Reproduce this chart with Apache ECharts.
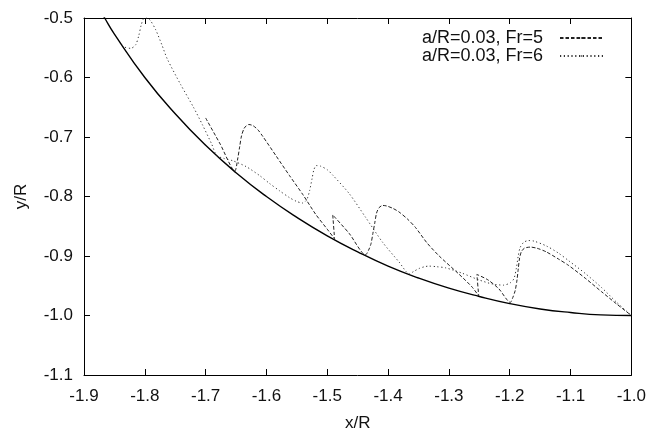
<!DOCTYPE html>
<html>
<head>
<meta charset="utf-8">
<script src="https://cdn.jsdelivr.net/npm/echarts@6/dist/echarts.min.js"></script>
<style>
  html, body { margin: 0; padding: 0; background: #fff; }
  #chart { width: 649px; height: 437px; }
</style>
</head>
<body>
<div id="chart"></div>
<script>
// Wall contour (solid)
const wallX = [-1.880, -1.866, -1.85, -1.8, -1.75, -1.7, -1.65, -1.6, -1.55, -1.5, -1.45, -1.4, -1.35, -1.3, -1.25, -1.2, -1.15, -1.1, -1.05, -1.0];
const wallY = [-0.475, -0.500, -0.527, -0.600, -0.661, -0.714, -0.760, -0.800, -0.835, -0.866, -0.893, -0.917, -0.937, -0.954, -0.968, -0.980, -0.989, -0.995, -0.999, -1.000];

// a/R=0.03, Fr=5 trajectory (dashed)
const fr5X = [-1.700, -1.676, -1.652,
  -1.647, -1.644, -1.641, -1.637, -1.633, -1.629, -1.622, -1.614, -1.606, -1.584, -1.562, -1.540, -1.519, -1.500, -1.488,
  -1.491, -1.464, -1.437,
  -1.432, -1.428, -1.425, -1.422, -1.419, -1.415, -1.409, -1.402, -1.392, -1.382, -1.368, -1.355, -1.336, -1.316, -1.284, -1.262, -1.251,
  -1.254, -1.236, -1.218, -1.199,
  -1.195, -1.191, -1.188, -1.186, -1.184, -1.181, -1.176, -1.166, -1.155, -1.140, -1.120, -1.103, -1.075, -1.049, -1.025, -1.000];
const fr5Y = [-0.668, -0.712, -0.757,
  -0.735, -0.716, -0.698, -0.686, -0.681, -0.679, -0.681, -0.688, -0.699, -0.732, -0.765, -0.797, -0.830, -0.855, -0.871,
  -0.831, -0.862, -0.898,
  -0.890, -0.879, -0.862, -0.845, -0.828, -0.819, -0.815, -0.816, -0.820, -0.826, -0.838, -0.852, -0.878, -0.900, -0.930, -0.952, -0.967,
  -0.931, -0.940, -0.955, -0.978,
  -0.970, -0.958, -0.940, -0.922, -0.905, -0.893, -0.887, -0.885, -0.887, -0.893, -0.905, -0.916, -0.938, -0.960, -0.980, -1.000];

// a/R=0.03, Fr=6 trajectory (dotted)
const fr6X = [-1.842, -1.833, -1.823, -1.815, -1.810, -1.806, -1.802, -1.797, -1.791, -1.782, -1.772, -1.763, -1.741, -1.720, -1.705, -1.690, -1.682,
  -1.670, -1.655, -1.633, -1.611, -1.595, -1.579, -1.562, -1.551, -1.541, -1.534, -1.529, -1.525, -1.522, -1.518, -1.511, -1.500, -1.491, -1.464, -1.437, -1.409, -1.382, -1.365,
  -1.358, -1.349, -1.340, -1.333, -1.320, -1.305, -1.278, -1.251, -1.229, -1.210, -1.199, -1.193, -1.189, -1.186, -1.183, -1.177, -1.169, -1.160, -1.140, -1.120, -1.103, -1.075, -1.049, -1.025, -1.000];
const fr6Y = [-0.541, -0.549, -0.551, -0.545, -0.530, -0.512, -0.501, -0.500, -0.504, -0.520, -0.545, -0.569, -0.612, -0.650, -0.680, -0.712, -0.731,
  -0.736, -0.740, -0.750, -0.765, -0.778, -0.790, -0.802, -0.808, -0.811, -0.806, -0.790, -0.770, -0.755, -0.748, -0.749, -0.755, -0.764, -0.795, -0.835, -0.877, -0.910, -0.930,
  -0.926, -0.921, -0.918, -0.917, -0.918, -0.920, -0.929, -0.940, -0.947, -0.949, -0.945, -0.938, -0.920, -0.900, -0.886, -0.877, -0.874, -0.875, -0.883, -0.895, -0.908, -0.930, -0.953, -0.977, -1.000];

// Axis ranges and tick step
const xMin = -1.9, xMax = -1.0;
const yMin = -1.1, yMax = -0.5;
const step = 0.1;

const zip = (xs, ys) => xs.map((x, i) => [x, ys[i]]);
const fmt = v => v.toFixed(1);

const FONT = 'Liberation Sans, Arial, sans-serif';
const tick = { show: true, inside: true, length: 6, lineStyle: { color: '#000', width: 1 } };
const line = { show: true, lineStyle: { color: '#000', width: 1 } };

const chart = echarts.init(document.getElementById('chart'), null, { renderer: 'canvas' });
chart.setOption({
  animation: false,
  backgroundColor: '#fff',
  grid: { left: 84, right: 16, top: 18, bottom: 52, containLabel: false },
  legend: {
    orient: 'vertical',
    right: 40,
    top: 24,
    align: 'right',
    itemWidth: 43,
    itemHeight: 2,
    itemGap: 0,
    data: ['a/R=0.03, Fr=5', 'a/R=0.03, Fr=6'],
    textStyle: { fontFamily: FONT, fontSize: 18, color: '#111', padding: [0, 12, 0, 0] }
  },
  xAxis: [
    {
      type: 'value', min: xMin, max: xMax, interval: step, position: 'bottom',
      axisLine: line, axisTick: tick, splitLine: { show: false },
      axisLabel: { formatter: fmt, fontFamily: FONT, fontSize: 17, color: '#111', margin: 13 },
      name: 'x/R', nameLocation: 'middle', nameGap: 40,
      nameTextStyle: { fontFamily: FONT, fontSize: 17, color: '#111' }
    },
    {
      type: 'value', min: xMin, max: xMax, interval: step, position: 'top',
      axisLine: line, axisTick: tick, splitLine: { show: false }, axisLabel: { show: false }
    }
  ],
  yAxis: [
    {
      type: 'value', min: yMin, max: yMax, interval: step, position: 'left',
      axisLine: line, axisTick: tick, splitLine: { show: false },
      axisLabel: { formatter: fmt, fontFamily: FONT, fontSize: 17, color: '#111', margin: 11 },
      name: 'y/R', nameLocation: 'middle', nameGap: 54,
      nameTextStyle: { fontFamily: FONT, fontSize: 17, color: '#111' }
    },
    {
      type: 'value', min: yMin, max: yMax, interval: step, position: 'right',
      axisLine: line, axisTick: tick, splitLine: { show: false }, axisLabel: { show: false }
    }
  ],
  series: [
    {
      name: 'wall', type: 'line', data: zip(wallX, wallY), smooth: true,
      showSymbol: false, symbol: 'none', clip: true,
      lineStyle: { color: '#000', width: 1.4 }
    },
    {
      name: 'a/R=0.03, Fr=5', type: 'line', data: zip(fr5X, fr5Y), smooth: 0.25,
      showSymbol: false, symbol: 'none', clip: true,
      itemStyle: { color: '#222' },
      lineStyle: { color: '#222', width: 1, type: [3.5, 2] }
    },
    {
      name: 'a/R=0.03, Fr=6', type: 'line', data: zip(fr6X, fr6Y), smooth: 0.25,
      showSymbol: false, symbol: 'none', clip: true,
      itemStyle: { color: '#333' },
      lineStyle: { color: '#333', width: 1, type: [1.2, 2.6] }
    }
  ]
});
</script>
</body>
</html>
